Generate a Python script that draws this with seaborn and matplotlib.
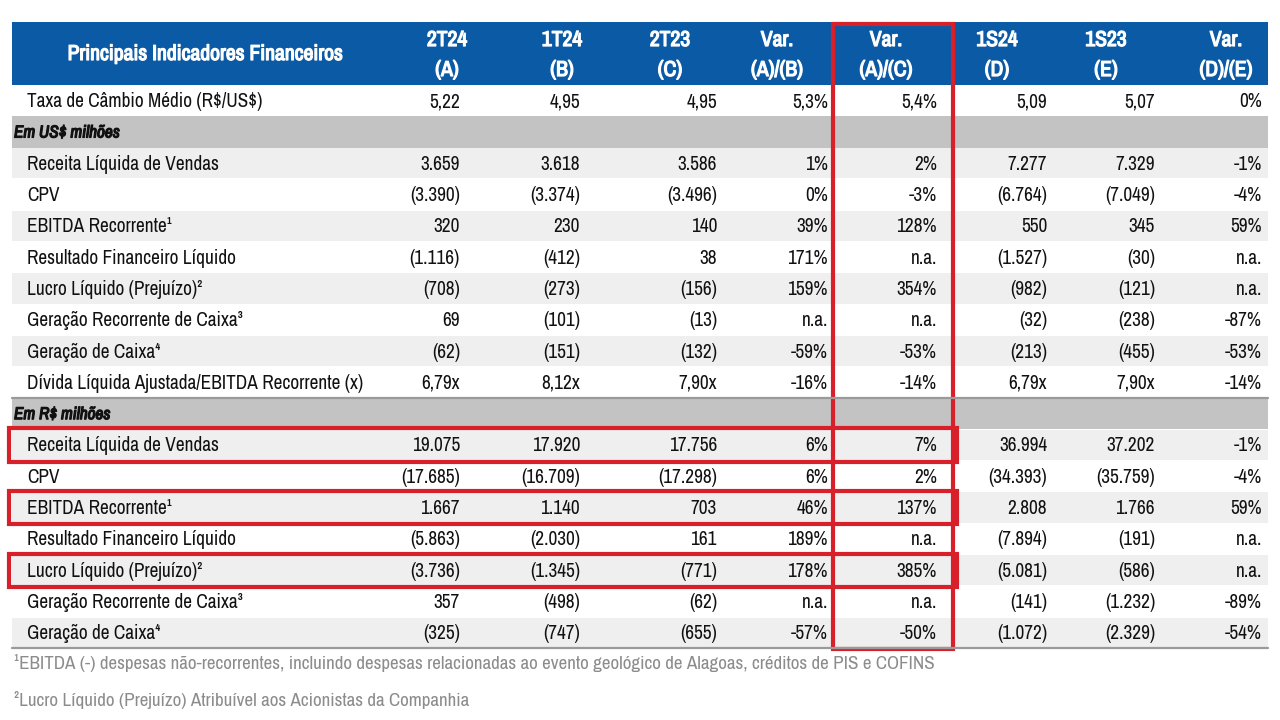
import matplotlib.pyplot as plt
import matplotlib.patheffects as pe
import seaborn as sns
from matplotlib import font_manager as fm
from matplotlib.patches import Rectangle

sns.set_theme(style="white")

title = "Principais Indicadores Financeiros"
header_top = ["2T24", "1T24", "2T23", "Var.", "Var.", "1S24", "1S23", "Var."]
header_bottom = ["(A)", "(B)", "(C)", "(A)/(B)", "(A)/(C)", "(D)", "(E)", "(D)/(E)"]

taxa_label = "Taxa de Câmbio Médio (R$/US$)"
taxa_values = ["5,22", "4,95", "4,95", "5,3%", "5,4%", "5,09", "5,07", "0%"]

usd_title = "Em US$ milhões"
usd_labels = ["Receita Líquida de Vendas", "CPV", "EBITDA Recorrente¹",
              "Resultado Financeiro Líquido", "Lucro Líquido (Prejuízo)²",
              "Geração Recorrente de Caixa³", "Geração de Caixa⁴",
              "Dívida Líquida Ajustada/EBITDA Recorrente (x)"]
usd_values = [
    ["3.659", "3.618", "3.586", "1%", "2%", "7.277", "7.329", "-1%"],
    ["(3.390)", "(3.374)", "(3.496)", "0%", "-3%", "(6.764)", "(7.049)", "-4%"],
    ["320", "230", "140", "39%", "128%", "550", "345", "59%"],
    ["(1.116)", "(412)", "38", "171%", "n.a.", "(1.527)", "(30)", "n.a."],
    ["(708)", "(273)", "(156)", "159%", "354%", "(982)", "(121)", "n.a."],
    ["69", "(101)", "(13)", "n.a.", "n.a.", "(32)", "(238)", "-87%"],
    ["(62)", "(151)", "(132)", "-59%", "-53%", "(213)", "(455)", "-53%"],
    ["6,79x", "8,12x", "7,90x", "-16%", "-14%", "6,79x", "7,90x", "-14%"],
]

brl_title = "Em R$ milhões"
brl_labels = ["Receita Líquida de Vendas", "CPV", "EBITDA Recorrente¹",
              "Resultado Financeiro Líquido", "Lucro Líquido (Prejuízo)²",
              "Geração Recorrente de Caixa³", "Geração de Caixa⁴"]
brl_values = [
    ["19.075", "17.920", "17.756", "6%", "7%", "36.994", "37.202", "-1%"],
    ["(17.685)", "(16.709)", "(17.298)", "6%", "2%", "(34.393)", "(35.759)", "-4%"],
    ["1.667", "1.140", "703", "46%", "137%", "2.808", "1.766", "59%"],
    ["(5.863)", "(2.030)", "161", "189%", "n.a.", "(7.894)", "(191)", "n.a."],
    ["(3.736)", "(1.345)", "(771)", "178%", "385%", "(5.081)", "(586)", "n.a."],
    ["357", "(498)", "(62)", "n.a.", "n.a.", "(141)", "(1.232)", "-89%"],
    ["(325)", "(747)", "(655)", "-57%", "-50%", "(1.072)", "(2.329)", "-54%"],
]
highlight_rows = [0, 2, 4]  # R$ rows boxed in red

footnotes = ["¹EBITDA (-) despesas não-recorrentes, incluindo despesas relacionadas ao evento geológico de Alagoas, créditos de PIS e COFINS",
             "²Lucro Líquido (Prejuízo) Atribuível aos Acionistas da Companhia"]

# pick a narrow font if one is installed
font_kw = {"family": ["DejaVu Sans"]}
names = sorted({f.name for f in fm.fontManager.ttflist})
narrow_names = [n for n in names if "Narrow" in n or "Condensed" in n]
if narrow_names:
    pref = [n for n in narrow_names if "Liberation" in n] or narrow_names
    font_kw = {"family": [pref[0], "DejaVu Sans"]}
plt.rcParams['font.family'] = font_kw["family"]
has_bold = any(f.name == font_kw["family"][0] and f.weight in (600, 700, 800, "bold")
               for f in fm.fontManager.ttflist)

# layout (pixels)
col_right = [460, 580, 717, 828, 937, 1047, 1155, 1262]
col_center = [447, 562, 670, 777, 886, 997, 1106, 1226]
x0, x1 = 12, 1268
head_top, head_bot = 22, 85
rh = 31.3
blue = "#0b5aa6"
red = "#d8202a"
txt = "#111111"

fig = plt.figure(figsize=(12.8, 7.2), dpi=100)
ax = fig.add_axes([0, 0, 1, 1])
ax.set_xlim(0, 1280)
ax.set_ylim(720, 0)
ax.axis("off")
renderer = fig.canvas.get_renderer()


def put(x, y, s, bold=False, **kw):
    kw.setdefault("color", txt)
    kw.setdefault("va", "center")
    if bold:
        kw["fontweight"] = "bold"
        if not has_bold:
            kw["path_effects"] = [pe.withStroke(linewidth=0.9, foreground=kw["color"])]
    return ax.text(x, y, s, parse_math=False, **{**font_kw, **kw})


def fit_size(s, target_px, **kw):
    t = put(0, 0, s, fontsize=10, **kw)
    w = t.get_window_extent(renderer).width
    t.remove()
    return 10 * target_px / w


fs = min(fit_size(usd_labels[-1], 337), 16)
fs_head = min(fit_size(title, 277, bold=True), 18)
fs_sec = min(fit_size(usd_title, 106, bold=True, style="italic"), 18)
fs_note = min(fit_size(footnotes[0], 926), 15)

# header
ax.add_patch(Rectangle((x0, head_top), x1 - x0, head_bot - head_top, color=blue, lw=0))
put(205, 54, title, bold=True, color="white", fontsize=fs_head, ha="center")
for c, t, b in zip(col_center, header_top, header_bottom):
    put(c, 40, t, bold=True, color="white", fontsize=fs_head, ha="center")
    put(c, 70, b, bold=True, color="white", fontsize=fs_head, ha="center")

# build row list
rows = [("row", taxa_label, taxa_values, False)]
rows.append(("section", usd_title, None, False))
for i, (lab, vals) in enumerate(zip(usd_labels, usd_values)):
    rows.append(("row", lab, vals, i % 2 == 0))
rows.append(("section", brl_title, None, False))
for i, (lab, vals) in enumerate(zip(brl_labels, brl_values)):
    rows.append(("row", lab, vals, i % 2 == 0))

brl_start = None
for r, (kind, lab, vals, shaded) in enumerate(rows):
    top = head_bot + r * rh
    yc = top + rh / 2
    if kind == "section":
        ax.add_patch(Rectangle((x0, top), x1 - x0, rh, color="#c3c3c3", lw=0))
        put(14, yc + 1, lab, bold=True, fontsize=fs_sec, style="italic", ha="left")
        if lab == brl_title:
            brl_start = r + 1
            ax.plot([x0, x1], [top, top], color="#9a9a9a", lw=1.6)
        continue
    if shaded:
        ax.add_patch(Rectangle((x0, top + 0.5), x1 - x0, rh - 1, color="#efefef", lw=0))
    put(27, yc + 1, lab, fontsize=fs, ha="left")
    for xr, v in zip(col_right, vals):
        put(xr, yc + 1, v, fontsize=fs, ha="right")

table_bot = head_bot + len(rows) * rh
ax.plot([x0, x1], [table_bot, table_bot], color="#9a9a9a", lw=1.6)

# red highlight boxes
for hr in highlight_rows:
    top = head_bot + (brl_start + hr) * rh
    ax.add_patch(Rectangle((9, top - 1), 948, rh + 2, fill=False, ec=red, lw=3))
ax.add_patch(Rectangle((833, head_top + 2), 120, table_bot - head_top - 1, fill=False, ec=red, lw=3))

# footnotes
put(14, 663, footnotes[0], fontsize=fs_note, color="#8c8c8c", ha="left")
put(14, 700, footnotes[1], fontsize=fs_note, color="#8c8c8c", ha="left")

fig.savefig("out.png", dpi=100, facecolor="white")
